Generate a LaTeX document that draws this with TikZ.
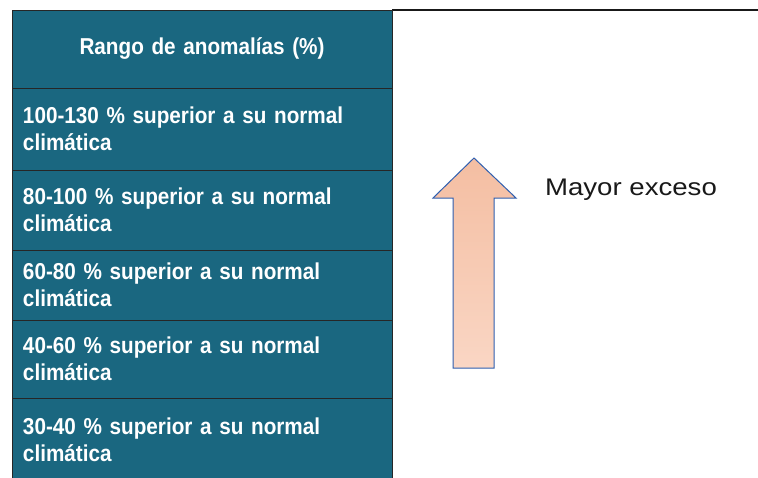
\documentclass[tikz,border=0pt]{standalone}
\usepackage{fontspec}
\setmainfont{Liberation Sans}
\newfontfamily\cellfont[FakeStretch=0.9]{Liberation Sans Bold}
\newfontfamily\wordfont[FakeStretch=1.15]{Liberation Sans}
\definecolor{tealcell}{HTML}{1A6780}
\definecolor{arrowline}{HTML}{2F5FB0}
\definecolor{peachtop}{HTML}{F4BEA2}
\definecolor{peachbot}{HTML}{FAD6C4}
\tikzset{
  cell/.style={rectangle, draw=black!85, line width=0.8pt, fill=tealcell, text=white,
    minimum width=380pt, inner xsep=11pt, text width=358pt, align=left,
    font=\cellfont\fontsize{23}{27}\selectfont},
}
\begin{document}
\begin{tikzpicture}[x=1pt,y=-1pt]
\useasboundingbox (0,0) rectangle (758,477);
\clip (0,0) rectangle (758,477);
\fill[white] (0,0) rectangle (758,477);
% top rule of the right panel
\fill[black!90] (392,9) rectangle (758,11);
\node (head) at (202,49) [cell, minimum height=78pt, align=center] {Rango de anomalías (\%)};
\node (r1) at (202,129) [cell, minimum height=82pt] {100-130 \% superior a su normal\\climática};
\node (r2) at (202,210) [cell, minimum height=80pt] {80-100 \% superior a su normal\\climática};
\node (r3) at (202,285) [cell, minimum height=70pt] {60-80 \% superior a su normal\\climática};
\node (r4) at (202,359) [cell, minimum height=78pt] {40-60 \% superior a su normal\\climática};
\node (r5) at (202,440) [cell, minimum height=84pt] {30-40 \% superior a su normal\\climática};
% arrow
\draw[arrowline, line width=1pt, top color=peachtop, bottom color=peachbot]
  (474,158) -- (516,198) -- (494,198) -- (494,368) -- (453,368) -- (453,198) -- (433,198) -- cycle;
\node (exceso) at (631,190) [font=\wordfont\fontsize{24}{28}\selectfont, text=black!90] {Mayor exceso};
\end{tikzpicture}
\end{document}
